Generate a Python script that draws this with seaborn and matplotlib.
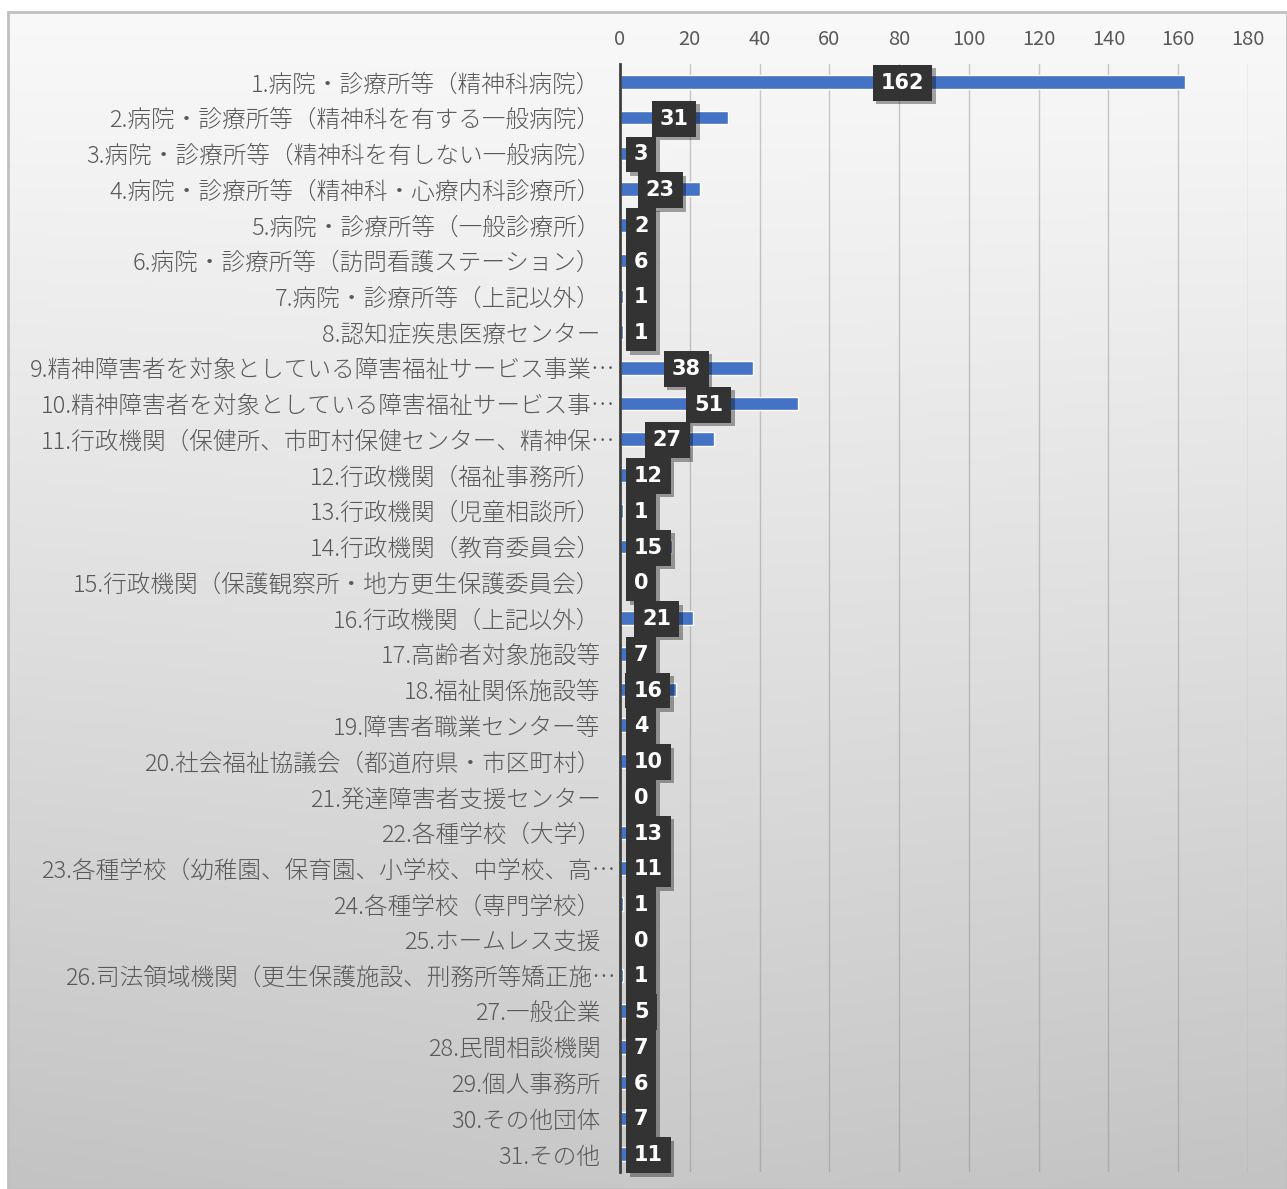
import numpy as np
import matplotlib
matplotlib.use("Agg")
import matplotlib.pyplot as plt
import matplotlib.patheffects as pe
from matplotlib.transforms import ScaledTranslation
from matplotlib.patches import Rectangle
import seaborn as sns

categories = [
    "1.病院・診療所等（精神科病院）",
    "2.病院・診療所等（精神科を有する一般病院）",
    "3.病院・診療所等（精神科を有しない一般病院）",
    "4.病院・診療所等（精神科・心療内科診療所）",
    "5.病院・診療所等（一般診療所）",
    "6.病院・診療所等（訪問看護ステーション）",
    "7.病院・診療所等（上記以外）",
    "8.認知症疾患医療センター",
    "9.精神障害者を対象としている障害福祉サービス事業…",
    "10.精神障害者を対象としている障害福祉サービス事…",
    "11.行政機関（保健所、市町村保健センター、精神保…",
    "12.行政機関（福祉事務所）",
    "13.行政機関（児童相談所）",
    "14.行政機関（教育委員会）",
    "15.行政機関（保護観察所・地方更生保護委員会）",
    "16.行政機関（上記以外）",
    "17.高齢者対象施設等",
    "18.福祉関係施設等",
    "19.障害者職業センター等",
    "20.社会福祉協議会（都道府県・市区町村）",
    "21.発達障害者支援センター",
    "22.各種学校（大学）",
    "23.各種学校（幼稚園、保育園、小学校、中学校、高…",
    "24.各種学校（専門学校）",
    "25.ホームレス支援",
    "26.司法領域機関（更生保護施設、刑務所等矯正施…",
    "27.一般企業",
    "28.民間相談機関",
    "29.個人事務所",
    "30.その他団体",
    "31.その他",
]
counts = [162, 31, 3, 23, 2, 6, 1, 1, 38, 51, 27, 12, 1, 15, 0, 21, 7, 16, 4,
          10, 0, 13, 11, 1, 0, 1, 5, 7, 6, 7, 11]
xticks = [0, 20, 40, 60, 80, 100, 120, 140, 160, 180]

sns.set_theme(style="white")
plt.rcParams['font.family'] = ['Noto Sans CJK JP', 'DejaVu Sans']

W, H = 1287, 1189
fig = plt.figure(figsize=(W / 100, H / 100), dpi=100)
fig.patch.set_facecolor("white")

# gradient background frame
bg = fig.add_axes([8 / W, 0, 1 - 8 / W, 1 - 12 / H])
bg.set_zorder(-10)
t = np.linspace(0, 1, 256)[:, None]
s = np.linspace(0, 1, 64)[None, :]
val = 0.975 - 0.19 * t ** 1.1 - 0.02 * np.abs(s - 0.5) * 2 * t
img = np.dstack([val, val, val])
bg.imshow(img, aspect="auto", extent=[0, 1, 0, 1], origin="upper")
bg.set_xlim(0, 1)
bg.set_ylim(0, 1)
bg.axis("off")
bg.add_patch(Rectangle((0, 0), 1, 1, transform=bg.transAxes, fill=False,
                       edgecolor="#c0c0c0", linewidth=2, clip_on=False))

ax = fig.add_axes([620 / W, 1 - 1172 / H, (1248 - 620) / W, (1172 - 64) / H])
ax.set_facecolor("none")

sns.barplot(x=counts, y=categories, orient="h", color="#4472C4",
            width=0.38, ax=ax, saturation=1, zorder=3)

ax.set_xlim(0, 180)
ax.set_ylim(30.5, -0.5)
ax.set_xticks(xticks)
ax.xaxis.tick_top()
ax.tick_params(axis="x", length=0, pad=10, labelsize=14.5, labelcolor="#595959")
ax.tick_params(axis="y", which="major", length=0, pad=14, labelsize=17,
               labelcolor="#595959")
for lab in ax.get_yticklabels():
    lab.set_fontweight("light")
ax.set_yticks(np.arange(-0.5, 31, 1), minor=True)
ax.tick_params(axis="y", which="minor", length=5, width=2, color="#404040",
               direction="out")
ax.grid(axis="x", color="#8c8c8c", alpha=0.45, linewidth=1, zorder=0)
ax.set_axisbelow(True)
for sp in ["top", "right", "bottom"]:
    ax.spines[sp].set_visible(False)
ax.spines["left"].set_color("#404040")
ax.spines["left"].set_linewidth(2)
ax.spines["left"].set_zorder(5)
ax.set_xlabel("")
ax.set_ylabel("")

# truncated labels sit closer to the axis
for lab in ax.get_yticklabels():
    if lab.get_text().endswith("…"):
        lab.set_transform(lab.get_transform() + ScaledTranslation(15 / 100, 0, fig.dpi_scale_trans))

# data labels
px_per_unit = (1248 - 620) / 180
for i, v in enumerate(counts):
    txt = str(v)
    half_px = (len(txt) * 13 + 12) / 2
    center = v / 2
    if center - half_px / px_per_unit < 2.3:
        x, ha = 14 / px_per_unit, "left"
    else:
        x, ha = center, "center"
    tx = ax.text(x, i + 0.03, txt, ha=ha, va="center", color="white",
                 fontsize=15, fontweight="bold", family=["DejaVu Sans"],
                 zorder=6,
                 bbox=dict(boxstyle="square,pad=0.38", facecolor="#333333",
                           edgecolor="none"))
    tx.get_bbox_patch().set_path_effects([
        pe.SimplePatchShadow(offset=(2.5, -2.5), alpha=0.35, shadow_rgbFace="black"),
        pe.Normal()])

fig.savefig("out.png", dpi=100)
